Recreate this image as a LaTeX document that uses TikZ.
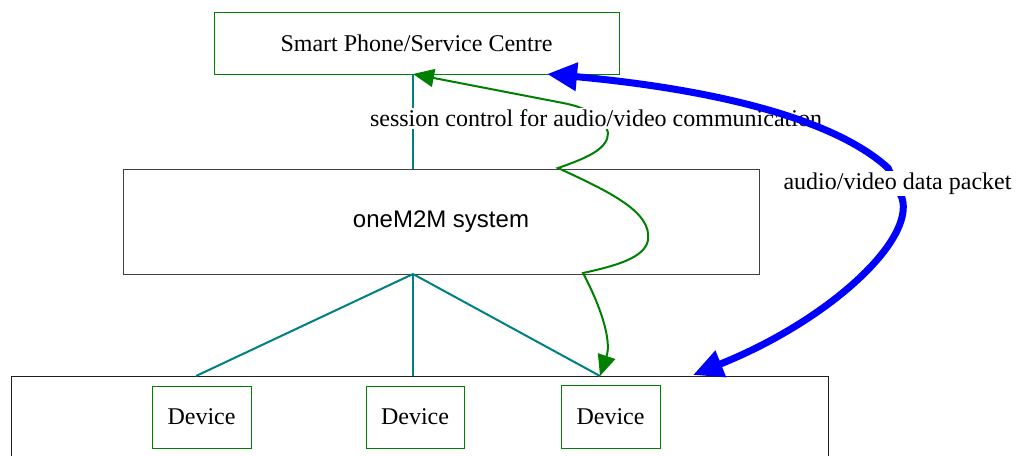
\documentclass[tikz,border=0pt]{standalone}
\usepackage{fontspec}
\setmainfont{Liberation Serif}
\newfontfamily\arialfont{Liberation Sans}
\usetikzlibrary{arrows.meta}
\definecolor{gboxc}{RGB}{0,128,0}
\definecolor{tealc}{RGB}{0,128,128}
\definecolor{bluec}{RGB}{0,0,255}
\definecolor{grayc}{RGB}{64,64,64}
\definecolor{darkc}{RGB}{30,30,30}
\begin{document}
\begin{tikzpicture}[x=1pt,y=-1pt,
  lbl/.style={font=\fontsize{24}{28}\selectfont},
  greenbox/.style={draw=gboxc, line width=1pt, inner sep=0pt, lbl},
  graybox/.style={draw=grayc, line width=1pt, inner sep=0pt, font=\arialfont\fontsize{24}{28}\selectfont},
  darkbox/.style={draw=darkc, line width=1pt, inner sep=0pt},
  tealline/.style={draw=tealc, line width=2pt},
  ctrlline/.style={draw=gboxc, line width=2pt, {Triangle[length=21pt,width=18pt]}-{Triangle[length=21pt,width=18pt]}},
  dataline/.style={draw=bluec, line width=7pt, {Triangle[length=30pt,width=27pt]}-{Triangle[length=30pt,width=27pt]}},
  edgelbl/.style={lbl, fill=white, inner sep=2pt}
]
\useasboundingbox (0,0) rectangle (1016,455);
\clip (0,0) rectangle (1016,455);

% boxes
\node[greenbox, minimum width=405pt, minimum height=62pt] (sp) at (416.5,43) {Smart Phone/Service Centre};
\node[graybox, minimum width=636pt, minimum height=105pt] (m2m) at (441,221.5) {oneM2M system};
\node[darkbox, minimum width=817pt, minimum height=120pt, anchor=north] (field) at (419.5,376) {};
\node[greenbox, minimum width=99pt, minimum height=62pt] (d1) at (201.5,417) {Device};
\node[greenbox, minimum width=98pt, minimum height=62pt] (d2) at (415,417) {Device};
\node[greenbox, minimum width=99pt, minimum height=63pt] (d3) at (610.5,416.5) {Device};

% connection points
\coordinate (spb) at (413,74);
\coordinate (mt) at (413,169);
\coordinate (mb) at (413,274);
\coordinate (t1) at (196,376);
\coordinate (t2) at (413,376);
\coordinate (t3) at (600,376);
\coordinate (bs) at (547,74);
\coordinate (be) at (693,375);

% teal links
\draw[tealline] (mt) -- (spb);
\draw[tealline] (mb) -- (t1);
\draw[tealline] (mb) -- (t2);
\draw[tealline] (mb) -- (t3);

% session control path
\draw[ctrlline] (spb) -- (563,103) .. controls (590,108) and (606,120) .. (608,133)
  .. controls (608,148) and (590,157) .. (558,168)
  .. controls (610,192) and (652,212) .. (648,240)
  .. controls (645,258) and (615,266) .. (583,273)
  .. controls (600,305) and (612,340) .. (t3);
\node[edgelbl] (sclbl) at (596,118.5) {session control for audio/video communication};

% data path
\draw[dataline] (bs) .. controls (700,88) and (830,115) .. (888,168) -- (902,198)
  .. controls (915,240) and (830,320) .. (be);
\node[edgelbl] (dplbl) at (897.5,183.5) {audio/video data packet};
\end{tikzpicture}
\end{document}
